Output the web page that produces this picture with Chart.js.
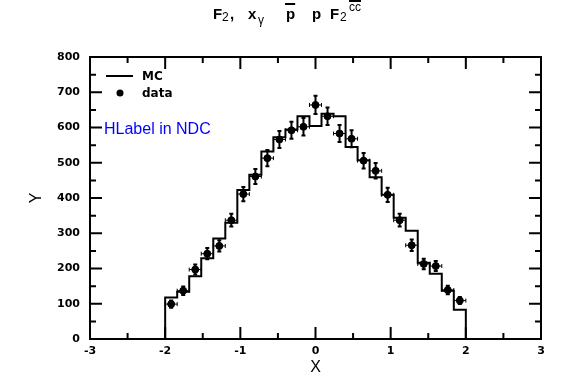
<!DOCTYPE html>
<html>
<head>
<meta charset="utf-8">
<script src="https://cdn.jsdelivr.net/npm/chart.js@4.4.1/dist/chart.umd.min.js"></script>
<style>
  body { margin: 0; background: #fff; }
  #wrap { width: 561px; height: 381px; }
</style>
</head>
<body>
<div id="wrap"><canvas id="chart" width="561" height="381"></canvas></div>
<script>
// histogram: 25 bins from -2 to 2
var binLow = -2.0;
var binWidth = 0.16;
var mcCounts = [118, 134, 178, 229, 285, 330, 423, 466, 532, 572, 594, 632, 604,
                639, 632, 545, 507, 459, 409, 344, 307, 216, 185, 137, 83];
var dataCounts = [99, 137, 197, 242, 264, 337, 411, 461, 513, 566, 592, 602, 664,
                  632, 583, 568, 506, 477, 409, 337, 266, 213, 207, 139, 109];
var dataErrors = [10, 12, 14, 16, 16, 18, 20, 21, 23, 24, 24, 25, 26,
                  25, 24, 24, 22, 22, 20, 18, 16, 15, 14, 12, 10];
var xRange = [-3, 3];
var yRange = [0, 800];

var FONT = "'DejaVu Sans', sans-serif";
var SANS = "'Liberation Sans', Arial, sans-serif";

// step outline for MC (points at left bin edges)
var mcStep = [{x: binLow, y: 0}];
mcCounts.forEach(function(v, i) {
    mcStep.push({x: binLow + i * binWidth, y: v});
});
mcStep.push({x: binLow + mcCounts.length * binWidth, y: mcCounts[mcCounts.length - 1]});
mcStep.push({x: binLow + mcCounts.length * binWidth, y: 0});

var dataPts = dataCounts.map(function(v, i) {
    return {x: binLow + (i + 0.5) * binWidth, y: v};
});

// error bars on data
var errorBars = {
    id: 'errorBars',
    afterDatasetsDraw: function(chart) {
        var ctx = chart.ctx, xs = chart.scales.x, ys = chart.scales.y;
        ctx.save();
        ctx.strokeStyle = '#000';
        dataPts.forEach(function(p, i) {
            var px = xs.getPixelForValue(p.x);
            var py = ys.getPixelForValue(p.y);
            var x0 = xs.getPixelForValue(p.x - binWidth / 2);
            var x1 = xs.getPixelForValue(p.x + binWidth / 2);
            var y0 = ys.getPixelForValue(p.y - dataErrors[i]);
            var y1 = ys.getPixelForValue(p.y + dataErrors[i]);
            ctx.lineWidth = 1;
            ctx.beginPath();
            ctx.moveTo(x0, py); ctx.lineTo(x1, py);
            ctx.moveTo(x0, py - 2); ctx.lineTo(x0, py + 2);
            ctx.moveTo(x1, py - 2); ctx.lineTo(x1, py + 2);
            ctx.stroke();
            ctx.lineWidth = 2;
            ctx.beginPath();
            ctx.moveTo(px, y0); ctx.lineTo(px, y1);
            ctx.moveTo(px - 2, y0); ctx.lineTo(px + 2, y0);
            ctx.moveTo(px - 2, y1); ctx.lineTo(px + 2, y1);
            ctx.stroke();
        });
        ctx.restore();
    }
};

// frame with inward ticks on all four sides, legend, title, label
var decorations = {
    id: 'decorations',
    afterDraw: function(chart) {
        var ctx = chart.ctx, a = chart.chartArea;
        var xs = chart.scales.x, ys = chart.scales.y;
        ctx.save();
        ctx.strokeStyle = '#000';
        ctx.lineWidth = 2;
        ctx.strokeRect(a.left, a.top, a.right - a.left, a.bottom - a.top);
        ctx.beginPath();
        var v, p, len;
        for (v = xRange[0]; v <= xRange[1] + 1e-9; v += 0.5) {
            p = xs.getPixelForValue(v);
            len = Math.abs(v - Math.round(v)) < 1e-6 ? 12 : 6;
            ctx.moveTo(p, a.bottom); ctx.lineTo(p, a.bottom - len);
            ctx.moveTo(p, a.top); ctx.lineTo(p, a.top + len);
        }
        for (v = yRange[0]; v <= yRange[1] + 1e-9; v += 50) {
            p = ys.getPixelForValue(v);
            len = v % 100 === 0 ? 12 : 6;
            ctx.moveTo(a.left, p); ctx.lineTo(a.left + len, p);
            ctx.moveTo(a.right, p); ctx.lineTo(a.right - len, p);
        }
        ctx.stroke();

        // legend
        ctx.fillStyle = '#000';
        ctx.lineWidth = 2;
        ctx.beginPath();
        ctx.moveTo(106, 76); ctx.lineTo(133, 76);
        ctx.stroke();
        ctx.beginPath();
        ctx.arc(120, 93, 3.5, 0, Math.PI * 2);
        ctx.fill();
        ctx.font = 'bold 12px ' + FONT;
        ctx.textBaseline = 'alphabetic';
        ctx.fillText('MC', 142, 80);
        ctx.fillText('data', 142, 97);

        ctx.fillStyle = '#0000ff';
        ctx.font = '16px ' + SANS;
        ctx.fillText('HLabel in NDC', 104, 134);

        // title: F2,  x_gamma  pbar  p F2^{ccbar}
        ctx.fillStyle = '#000';
        function t(s, x, y, font) {
            ctx.font = font;
            ctx.fillText(s, x, y);
            return ctx.measureText(s).width;
        }
        var big = 'bold 15px ' + SANS, small = '12px ' + SANS;
        t('F', 213, 19, big);
        t('2', 222, 21, small);
        t(',', 230, 19, big);
        t('x', 248, 19, big);
        t('\u03b3', 258, 24, small);
        var w = t('p', 286, 19, big);
        ctx.fillRect(285, 3, w + 1, 2);
        t('p', 312, 19, big);
        t('F', 330, 19, big);
        t('2', 340, 21, small);
        w = t('cc', 349, 11, small);
        ctx.fillRect(349, 0, w, 2);
        ctx.restore();
    }
};

var ctx = document.getElementById('chart');
var chart = new Chart(ctx, {
    type: 'scatter',
    data: {
        datasets: [{
            type: 'line',
            data: mcStep,
            stepped: 'before',
            borderColor: '#000',
            borderWidth: 2,
            pointRadius: 0,
            fill: false
        }, {
            data: dataPts,
            backgroundColor: '#000',
            borderColor: '#000',
            pointRadius: 3.5,
            pointHoverRadius: 3.5
        }]
    },
    options: {
        responsive: false,
        animation: false,
        devicePixelRatio: 1,
        layout: { padding: { top: 57, right: 20, left: 0, bottom: 0 } },
        plugins: {
            legend: { display: false },
            title: { display: false },
            tooltip: { enabled: false }
        },
        scales: {
            x: {
                type: 'linear',
                min: xRange[0],
                max: xRange[1],
                afterFit: function(s) { s.height = 42; },
                grid: { display: false, drawTicks: false },
                border: { display: false },
                ticks: {
                    stepSize: 1,
                    padding: 6,
                    color: '#000',
                    font: { family: FONT, size: 11, weight: 'bold' }
                },
                title: {
                    display: true,
                    text: 'X',
                    color: '#000',
                    padding: { top: 0, bottom: 4 },
                    font: { family: SANS, size: 16 }
                }
            },
            y: {
                min: yRange[0],
                max: yRange[1],
                afterFit: function(s) { s.width = 90; },
                grid: { display: false, drawTicks: false },
                border: { display: false },
                ticks: {
                    stepSize: 100,
                    padding: 10,
                    color: '#000',
                    font: { family: FONT, size: 11, weight: 'bold' }
                },
                title: {
                    display: true,
                    text: 'Y',
                    color: '#000',
                    padding: { top: 27, bottom: 0 },
                    font: { family: SANS, size: 16 }
                }
            }
        }
    },
    plugins: [errorBars, decorations]
});
</script>
</body>
</html>
